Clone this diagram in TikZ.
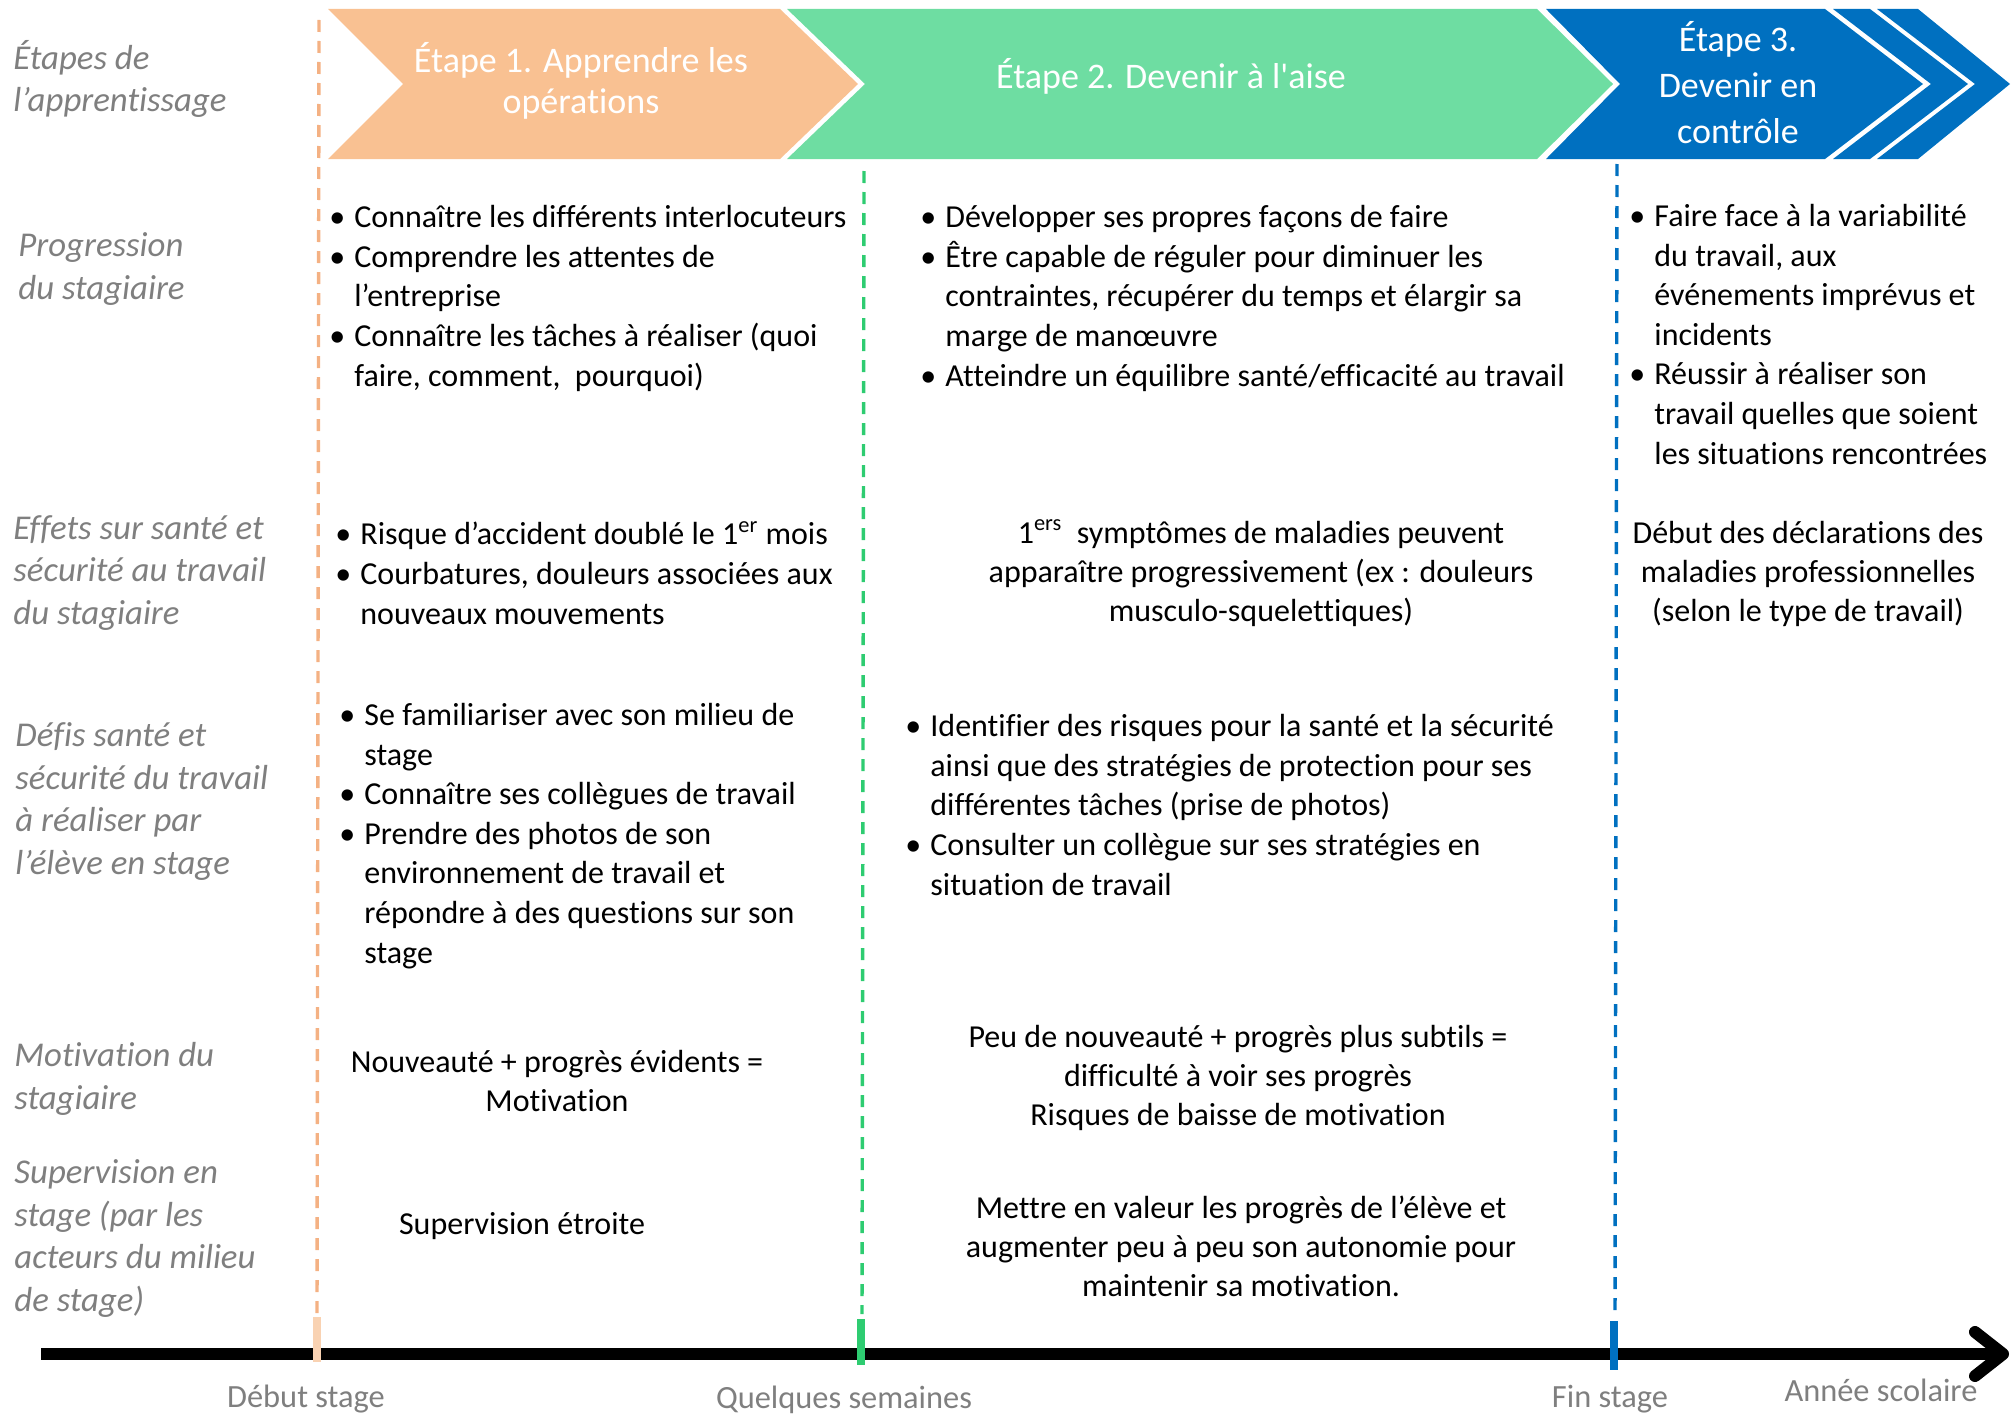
\documentclass[tikz,border=0pt]{standalone}
\usepackage{fontspec}
\setmainfont{Carlito}[Ligatures={TeX,NoCommon}]

\definecolor{etapeA}{RGB}{249,193,146}
\definecolor{etapeB}{RGB}{110,221,162}
\definecolor{etapeC}{RGB}{0,112,192}
\definecolor{traitA}{RGB}{244,177,131}
\definecolor{tickA}{RGB}{249,210,178}
\definecolor{traitB}{RGB}{46,204,113}
\definecolor{gristexte}{RGB}{127,127,127}

\tikzset{
  rubrique/.style={anchor=base west, inner sep=0pt, align=left, text=gristexte,
    font=\fontsize{17.4}{21.2}\selectfont\itshape},
  liste/.style={anchor=base west, inner sep=0pt, align=left,
    font=\fontsize{16}{19.8}\selectfont},
  bloc/.style={anchor=base, inner sep=0pt, align=center,
    font=\fontsize{16}{19.5}\selectfont},
  titre/.style={anchor=base, inner sep=0pt, align=center, text=white},
  repere/.style={anchor=base, inner sep=0pt, text=gristexte,
    font=\fontsize{16.2}{20}\selectfont},
  pointille/.style={line width=1.7pt, dash pattern=on 6pt off 4.5pt},
}
\newcommand{\puce}{\llap{\textbullet\hspace{4.5pt}}}

\begin{document}
\begin{tikzpicture}[x=0.5pt,y=0.5pt,yscale=-1,xscale=1]
\useasboundingbox (0,0) rectangle (2011,1413);
% multi-line nodes sit on the baseline of their last line

%Shape: Chevron etape 1
\fill [etapeA] (328,9) -- (780,9) -- (858,84) -- (780,159) -- (328,159) -- (403,84) -- cycle ;
%Shape: Chevron etape 2
\fill [etapeB] (787,9) -- (1537,9) -- (1613,84) -- (1537,159) -- (787,159) -- (865,84) -- cycle ;
%Shape: Chevron etape 3
\fill [etapeC] (1546,9) -- (1825,9) -- (1923,84) -- (1825,159) -- (1546,159) -- (1620,84) -- cycle ;
%Shape: Chevrons suite
\fill [etapeC] (1833,9) -- (1870,9) -- (1968,84) -- (1870,159) -- (1833,159) -- (1931,84) -- cycle ;
\fill [etapeC] (1877,9) -- (1918,9) -- (2010,84) -- (1918,159) -- (1877,159) -- (1975,84) -- cycle ;

%Straight Lines: reperes pointilles
\draw [traitA, pointille] (319,20) -- (317,1314) ;
\draw [traitB, pointille] (864,171) -- (862,1314) ;
\draw [etapeC, pointille] (1617,164) -- (1615,1314) ;

%Straight Lines: axe du temps
\draw [line width=6pt] (41,1354) -- (2000,1354) ;
\draw [line width=6pt, line cap=round, line join=round] (1975,1332) -- (2003,1354) -- (1975,1376) ;
\draw [tickA, line width=4pt] (317,1317) -- (317,1362) ;
\draw [traitB, line width=4pt] (861,1319) -- (861,1365) ;
\draw [etapeC, line width=4pt] (1614,1321) -- (1614,1370) ;

% Text Node
\node [titre, font=\fontsize{18}{20.5}\selectfont] (etape1) at (581,113) {Étape 1. Apprendre les\\opérations};
% Text Node
\node [titre, font=\fontsize{18}{20.5}\selectfont] (etape2) at (1171,89) {Étape 2. Devenir à l\textquotesingle aise};
% Text Node
\node [titre, font=\fontsize{18}{23}\selectfont] (etape3) at (1738,143) {Étape 3.\\Devenir en\\contrôle};

% Text Node
\node [rubrique] (lblEtapes) at (13,112) {Étapes de\\l’apprentissage};
% Text Node
\node [rubrique] (lblProgression) at (18,299) {Progression\\du stagiaire};
% Text Node
\node [rubrique] (lblEffets) at (13,624) {Effets sur santé et\\sécurité au travail\\du stagiaire};
% Text Node
\node [rubrique] (lblDefis) at (15,874) {Défis santé et\\sécurité du travail\\à réaliser par\\l’élève en stage};
% Text Node
\node [rubrique] (lblMotivation) at (14,1109) {Motivation du\\stagiaire};
% Text Node
\node [rubrique] (lblSupervision) at (14,1311) {Supervision en\\stage (par les\\acteurs du milieu\\de stage)};

% Text Node
\node [liste] (progA) at (354,386) {\puce Connaître les différents interlocuteurs\\
\puce Comprendre les attentes de\\
l’entreprise\\
\puce Connaître les tâches à réaliser (quoi\\
faire, comment,\ \ pourquoi)};
% Text Node
\node [liste] (progB) at (945,386) {\puce Développer ses propres façons de faire\\
\puce Être capable de réguler pour diminuer les\\
contraintes, récupérer du temps et élargir sa\\
marge de manœuvre\\
\puce Atteindre un équilibre santé/efficacité au travail};
% Text Node
\node [liste] (progC) at (1654,464) {\puce Faire face à la variabilité\\
du travail, aux\\
événements imprévus et\\
incidents\\
\puce Réussir à réaliser son\\
travail quelles que soient\\
les situations rencontrées};

% Text Node
\node [liste] (effetsA) at (360,624) {\puce Risque d’accident doublé le 1\textsuperscript{er} mois\\
\puce Courbatures, douleurs associées aux\\
nouveaux mouvements};
% Text Node
\node [bloc] (effetsB) at (1261,621) {1\textsuperscript{ers}\ \ symptômes de maladies peuvent\\
apparaître progressivement (ex : douleurs\\
musculo-squelettiques)};
% Text Node
\node [bloc] (effetsC) at (1808,621) {Début des déclarations des\\
maladies professionnelles\\
(selon le type de travail)};

% Text Node
\node [liste] (defisA) at (364,963) {\puce Se familiariser avec son milieu de\\
stage\\
\puce Connaître ses collègues de travail\\
\puce Prendre des photos de son\\
environnement de travail et\\
répondre à des questions sur son\\
stage};
% Text Node
\node [liste] (defisB) at (930,895) {\puce Identifier des risques pour la santé et la sécurité\\
ainsi que des stratégies de protection pour ses\\
différentes tâches (prise de photos)\\
\puce Consulter un collègue sur ses stratégies en\\
situation de travail};

% Text Node
\node [bloc] (motivA) at (557,1111) {Nouveauté + progrès évidents =\\Motivation};
% Text Node
\node [bloc] (motivB) at (1238,1125) {Peu de nouveauté + progrès plus subtils =\\
difficulté à voir ses progrès\\
Risques de baisse de motivation};

% Text Node
\node [bloc] (supA) at (522,1234) {Supervision étroite};
% Text Node
\node [bloc] (supB) at (1241,1296) {Mettre en valeur les progrès de l’élève et\\
augmenter peu à peu son autonomie pour\\
maintenir sa motivation.};

% Text Node
\node [repere] (debut) at (306,1407) {Début stage};
% Text Node
\node [repere] (semaines) at (844,1408) {Quelques semaines};
% Text Node
\node [repere] (fin) at (1610,1407) {Fin stage};
% Text Node
\node [repere] (annee) at (1881,1401) {Année scolaire};

\end{tikzpicture}
\end{document}
